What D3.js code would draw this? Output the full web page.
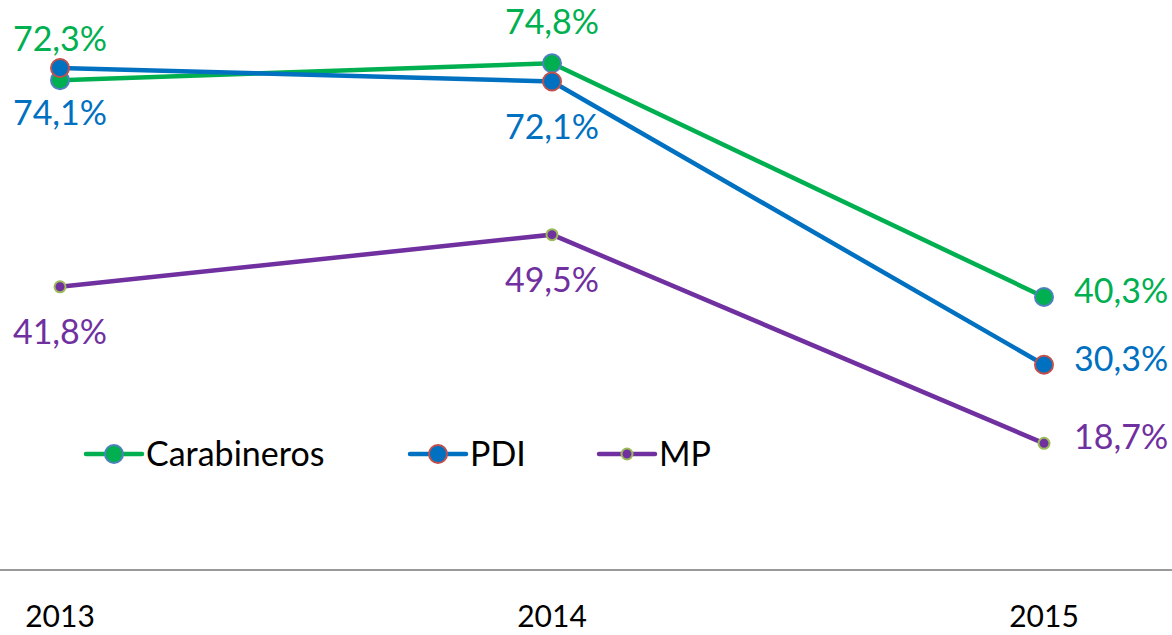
<!DOCTYPE html>
<html>
<head>
<meta charset="utf-8">
<script src="https://cdn.jsdelivr.net/npm/d3@7"></script>
<style>
  body { margin: 0; background: #fff; }
  text { font-family: Lato, "Open Sans", sans-serif; }
</style>
</head>
<body>
<svg id="chart"></svg>
<script>
var years = ["2013", "2014", "2015"];
var carabineros = [72.3, 74.8, 40.3];
var pdi = [74.1, 72.1, 30.3];
var mp = [41.8, 49.5, 18.7];

var width = 1172, height = 635;

var series = [
  { name: "Carabineros", values: carabineros, color: "#00b050", stroke: "#4f81bd", r: 9,
    labelPos: ["above", "above", "right"] },
  { name: "PDI", values: pdi, color: "#0070c0", stroke: "#c0504d", r: 9,
    labelPos: ["below", "below", "right"] },
  { name: "MP", values: mp, color: "#7030a0", stroke: "#9bbb59", r: 5.5,
    labelPos: ["below", "below", "right"] }
];

var svg = d3.select("#chart")
  .attr("width", width)
  .attr("height", height);

var x = d3.scalePoint()
  .domain(years)
  .range([60, 1044]);

var y = d3.scaleLinear()
  .domain([0, 80])
  .range([570, 28]);

// x axis line, no ticks
var xAxis = svg.append("g")
  .attr("transform", "translate(0,570)");
xAxis.append("line")
  .attr("x1", 0)
  .attr("x2", width)
  .attr("stroke", "#999")
  .attr("stroke-width", 2);

xAxis.selectAll(".year")
  .data(years)
  .enter().append("text")
    .attr("class", "year")
    .attr("x", function(d) { return x(d); })
    .attr("y", 57)
    .attr("text-anchor", "middle")
    .style("font-size", "30px")
    .attr("fill", "#000")
    .text(function(d) { return d; });

var line = d3.line()
  .x(function(d, i) { return x(years[i]); })
  .y(function(d) { return y(d); });

var fmt = function(v) { return v.toFixed(1).replace(".", ",") + "%"; };

series.forEach(function(s) {
  var g = svg.append("g");

  g.append("path")
    .datum(s.values)
    .attr("d", line)
    .attr("fill", "none")
    .attr("stroke", s.color)
    .attr("stroke-width", 4.5);

  g.selectAll("circle")
    .data(s.values)
    .enter().append("circle")
      .attr("cx", function(d, i) { return x(years[i]); })
      .attr("cy", function(d) { return y(d); })
      .attr("r", s.r)
      .attr("fill", s.color)
      .attr("stroke", s.stroke)
      .attr("stroke-width", 2);

  g.selectAll(".lbl")
    .data(s.values)
    .enter().append("text")
      .attr("class", "lbl")
      .attr("x", function(d, i) {
        return s.labelPos[i] == "right" ? x(years[i]) + 30 : x(years[i]);
      })
      .attr("y", function(d, i) {
        var p = s.labelPos[i];
        if (p == "above") return y(d) - 29;
        if (p == "below") return y(d) + 57;
        return y(d) + 6;
      })
      .attr("text-anchor", function(d, i) { return s.labelPos[i] == "right" ? "start" : "middle"; })
      .style("font-size", "34px")
      .attr("fill", s.color)
      .text(fmt);
});

// legend
var legendX = [86, 410, 599];
var legend = svg.selectAll(".legend")
  .data(series)
  .enter().append("g")
    .attr("class", "legend")
    .attr("transform", function(d, i) { return "translate(" + legendX[i] + ",454)"; });

legend.append("line")
  .attr("x1", 0)
  .attr("x2", 56)
  .attr("stroke", function(d) { return d.color; })
  .attr("stroke-width", 4.5)
  .attr("stroke-linecap", "round");

legend.append("circle")
  .attr("cx", 28)
  .attr("r", function(d) { return d.r; })
  .attr("fill", function(d) { return d.color; })
  .attr("stroke", function(d) { return d.stroke; })
  .attr("stroke-width", 2);

legend.append("text")
  .attr("x", 60)
  .attr("y", 12)
  .style("font-size", "34px")
  .attr("fill", "#000")
  .text(function(d) { return d.name; });
</script>
</body>
</html>
